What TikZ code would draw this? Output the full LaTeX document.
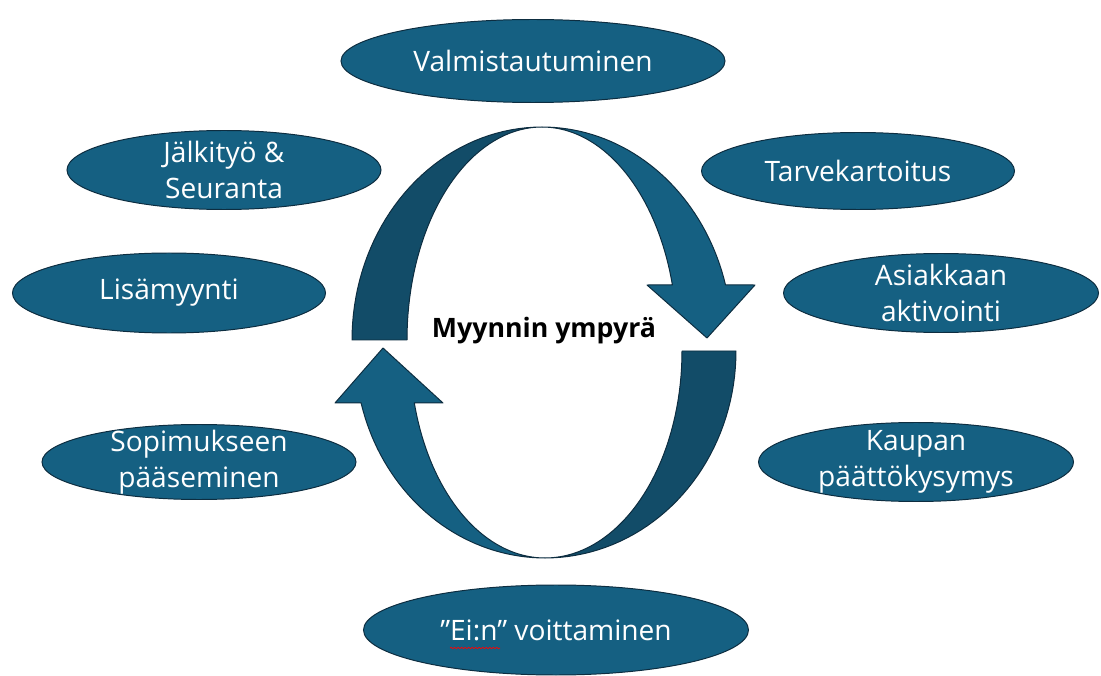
\documentclass[tikz,border=0pt]{standalone}
\usepackage{fontspec}
\setmainfont{Open Sans}
\usetikzlibrary{shapes.geometric,decorations.pathmorphing,calc}
\definecolor{phasefill}{HTML}{156082}
\definecolor{phasedark}{HTML}{124C68}
\definecolor{phaseedge}{HTML}{0D2D40}
\begin{document}
\begin{tikzpicture}[
    x=0.025cm,y=-0.025cm,
    font=\fontsize{20}{25.5}\selectfont
  ]
\def\px{0.025cm}
\useasboundingbox (0,0) rectangle (1101,676);

\tikzstyle{phase}=[ellipse,draw=phaseedge,fill=phasefill,line width=0.7pt,inner sep=0pt];
\tikzstyle{txt}=[text=white,align=center,inner sep=0pt];
\tikzstyle{bandlight}=[fill=phasefill,draw=phaseedge,line width=0.7pt,line join=round];
\tikzstyle{banddark}=[fill=phasedark,draw=phaseedge,line width=0.7pt,line join=round];

% vaiheet
\node[phase,minimum width=384*\px,minimum height=83*\px,label={[txt]center:Valmistautuminen}] (valm) at (533,61) {};
\node[phase,minimum width=313*\px,minimum height=77*\px,label={[txt]center:Tarvekartoitus}] (tarve) at (858,171) {};
\node[phase,minimum width=315*\px,minimum height=79*\px,label={[txt]center:Asiakkaan\\aktivointi}] (aktiv) at (941,293) {};
\node[phase,minimum width=315*\px,minimum height=79*\px,label={[txt]center:Kaupan\\päättökysymys}] (paatto) at (916,462) {};
\node[phase,minimum width=385*\px,minimum height=90*\px,label={[txt]center:”Ei:n” voittaminen}] (voitto) at (556,630) {};
\node[phase,minimum width=314*\px,minimum height=75*\px,label={[txt]center:Sopimukseen\\pääseminen}] (sopimus) at (199,462) {};
\node[phase,minimum width=313*\px,minimum height=80*\px,label={[txt]center:Lisämyynti}] (lisa) at (169,293) {};
\node[phase,minimum width=314*\px,minimum height=79*\px,label={[txt]center:Jälkityö \&\\Seuranta}] (jalki) at (224,170) {};

\draw[red,line width=0.5pt,decorate,decoration={snake,amplitude=0.5pt,segment length=2.5pt}]
  ($ (voitto) + (-106,18) $) -- ($ (voitto) + (-56,18) $);

% ylakaari
\draw[banddark] plot[domain=0:90,samples=40,variable=\t] ({542-190*cos(\t)},{340-213*sin(\t)})
  -- plot[domain=90:0,samples=40,variable=\t] ({542-135*cos(\t)},{340-213*sin(\t)}) -- cycle;
\draw[bandlight] plot[domain=90:15,samples=40,variable=\t] ({542+190*cos(\t)},{340-213*sin(\t)})
  -- (755,285) -- (707,338) -- (647,285)
  -- plot[domain=15:90,samples=40,variable=\t] ({542+135*cos(\t)},{340-213*sin(\t)}) -- cycle;

% alakaari
\draw[banddark] plot[domain=0:90,samples=40,variable=\t] ({545+191*cos(\t)},{351+207*sin(\t)})
  -- plot[domain=90:0,samples=40,variable=\t] ({545+137*cos(\t)},{351+207*sin(\t)}) -- cycle;
\draw[bandlight] plot[domain=90:14.5,samples=40,variable=\t] ({545-190*cos(\t)},{351+207*sin(\t)})
  -- (335,403) -- (383,348) -- (443,403)
  -- plot[domain=14.5:90,samples=40,variable=\t] ({545-135*cos(\t)},{351+207*sin(\t)}) -- cycle;

\node[font=\bfseries\fontsize{19}{22}\selectfont] (otsikko) at (544,331) {Myynnin ympyrä};

\end{tikzpicture}
\end{document}
